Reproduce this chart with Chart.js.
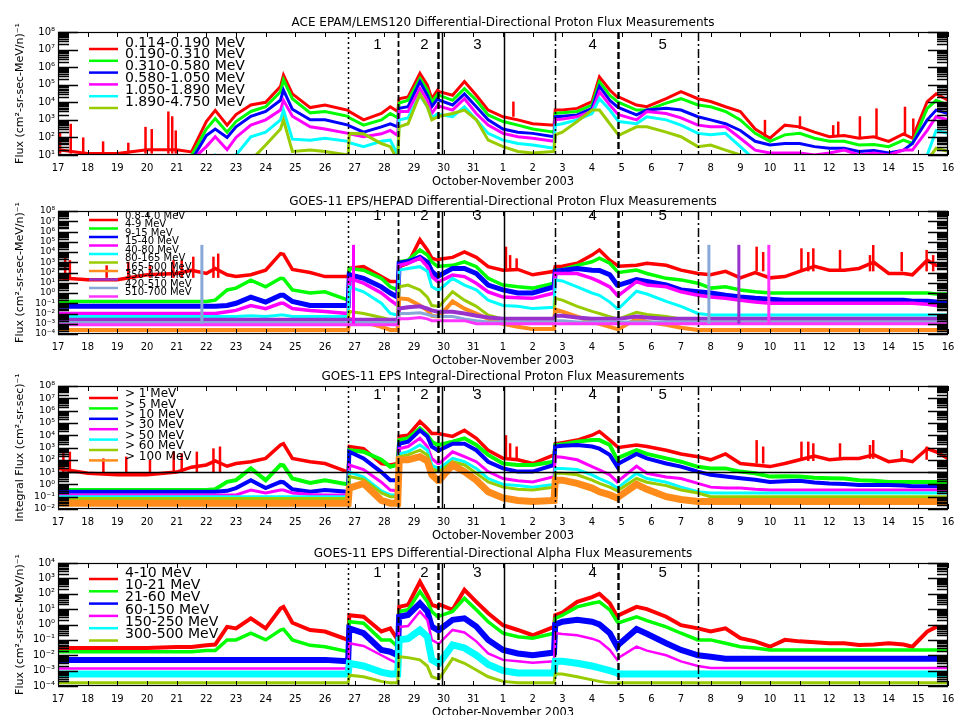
<!DOCTYPE html>
<html><head><meta charset="utf-8">
<script src="https://cdn.jsdelivr.net/npm/chart.js@4.4.0/dist/chart.umd.min.js"></script>
<style>
html,body{margin:0;padding:0;background:#fff;width:954px;height:715px;overflow:hidden;position:relative}
canvas{position:absolute;left:0}
</style></head><body>
<canvas id="c1" width="954" height="179" style="top:10px"></canvas>
<canvas id="c2" width="954" height="179" style="top:189px"></canvas>
<canvas id="c3" width="954" height="179" style="top:364px"></canvas>
<canvas id="c4" width="954" height="179" style="top:541px"></canvas>
<script>
// ---- time axis: days since 2003-10-17 00:00 UT ----
const days = [0,1,2,3,4,4.5,5,5.3,5.7,6,
 6.5,7,7.5,7.6,7.9,8.5,9,9.78,9.82,10.3,
 10.9,11.2,11.45,11.5,11.8,12.2,12.45,12.6,12.8,12.85,
 13.3,13.7,14.1,14.5,15,15.5,16,16.72,16.76,17,
 17.5,18,18.25,18.6,18.85,18.9,19.5,19.85,20.5,21,
 21.57,22,22.5,23,23.5,24,24.5,25,25.5,26,
 26.5,27,27.5,28,28.5,28.8,29.3,29.6,30];
const xTickDays = [0,1,2,3,4,5,6,7,8,9,10,11,12,13,14,15,16,17,18,19,20,21,22,23,24,25,26,27,28,29,30];
const dayLabels = ['17','18','19','20','21','22','23','24','25','26','27','28','29','30','31','1','2','3','4','5','6','7','8','9','10','11','12','13','14','15','16'];

// event markers
const eventDays = [9.79, 11.47, 12.82, 12.93, 15.02, 16.74, 18.87, 21.57];
const eventNumbers = ['1','2','3','4','5'];
const eventNumberDays = [10.77, 12.35, 14.14, 18.02, 20.38];

// ---- Panel 1: ACE EPAM/LEMS120 ----
const epamLabels = ['0.114-0.190 MeV','0.190-0.310 MeV','0.310-0.580 MeV','0.580-1.050 MeV','1.050-1.890 MeV','1.890-4.750 MeV'];
const yTicksEpam = [1e1,1e2,1e3,1e4,1e5,1e6,1e7,1e8];
const epam1 = [2e1,1.2e1,1.2e1,2e1,2e1,1.5e1,8e2,3.5e3,5e2,2e3,
 7e3,1e4,8e4,3.5e5,3e4,5e3,7e3,3.5e3,3e3,1e3,
 2.3e3,5.6e3,3e3,1.6e4,2e4,4.5e5,9.5e4,1.6e4,5e4,4e4,
 2.5e4,1.5e5,2.5e4,3.6e3,1.5e3,1e3,6e2,5e2,3.6e3,3.6e3,
 4.5e3,1.1e4,2.8e5,5e4,2e4,2e4,7e3,5.6e3,1.6e4,4e4,
 1.6e4,1.1e4,5.6e3,3e3,3e2,9e1,5e2,4e2,2e2,1.1e2,
 1.3e2,9e1,1.1e2,6e1,1.6e2,9e1,1.1e4,3e4,1.3e4];
const epam2 = [9,9,9,9,9,9,3e2,1.2e3,2e2,8e2,
 3e3,5.6e3,4e4,1.9e5,1.6e4,2.5e3,3e3,1.6e3,1.3e3,5e2,
 1e3,2.3e3,1.3e3,9e3,1.3e4,2.3e5,5e4,1e4,3e4,2.5e4,
 1.3e4,6e4,1.3e4,1.9e3,8e2,5e2,3e2,2e2,2.3e3,2.5e3,
 3e3,7e3,1.5e5,2.5e4,1.1e4,1e4,3.6e3,3.6e3,9e3,1.6e4,
 7e3,5.6e3,3e3,1e3,1.7e2,6e1,1.4e2,1.7e2,9e1,6e1,
 6e1,3.7e1,4e1,3e1,7e1,4.5e1,4.5e3,1.3e4,7e3];
const epam3 = [5,5,5,5,5,5,1.3e2,3e2,1e2,4e2,
 1.6e3,3e3,1.3e4,5e4,4e3,1e3,1e3,5e2,4.5e2,2e2,
 4e2,6e2,4e2,4.5e3,5.6e3,1.5e5,2.5e4,5.6e3,1.6e4,1.3e4,
 7e3,3e4,5.6e3,1e3,3e2,2e2,1.7e2,1.1e2,1.5e3,1.6e3,
 1.9e3,4.5e3,8e4,1.3e4,5.6e3,5e3,1.9e3,3.6e3,4.5e3,3.6e3,
 1.5e3,1e3,6e2,2.5e2,6e1,3.7e1,4.5e1,4.5e1,3e1,2.4e1,
 2.4e1,1.6e1,1.8e1,1.3e1,1.9e1,4.5e1,1e3,3.6e3,2.3e3];
const epam4 = [5,5,5,5,5,5,3e1,1.1e2,2e1,1e2,
 5e2,1e3,3.6e3,1.3e4,1.6e3,4e2,3e2,1.7e2,1.6e2,1.1e2,
 1.6e2,2.5e2,1.3e2,3e3,3e3,6e4,1.3e4,2.3e3,7e3,6e3,
 3.6e3,1.6e4,2.3e3,5e2,1.7e2,1.1e2,9e1,6e1,1e3,1.1e3,
 1.5e3,3e3,4e4,7e3,2.3e3,2e3,1e3,3e3,2.3e3,1.3e3,
 5e2,4e2,4e2,9e1,1.9e1,1.3e1,1.3e1,1.3e1,1e1,1.3e1,
 1.9e1,1e1,1.3e1,1e1,1.9e1,1.9e1,2.5e2,1.5e3,1e3];
const epam5 = [5,5,5,5,5,5,5,1e1,5,1e1,
 1.1e2,2e2,1e3,3.6e3,8e1,7e1,9e1,6e1,5e1,3e1,
 6e1,7e1,1e1,1e3,1.3e3,2.5e4,5.6e3,1.3e3,2.3e3,2e3,
 1.5e3,5.6e3,1e3,1.7e2,7e1,4.5e1,3.7e1,2.4e1,5e2,6e2,
 1e3,2.3e3,1.6e4,3.6e3,1e3,8e2,6e2,1.5e3,1e3,5e2,
 1.7e2,1.4e2,1.7e2,3e1,5,5,5,5,5,5,
 5,5,5,5,5,5,1e1,2.5e2,1.7e2];
const epam6 = [5,5,5,5,5,5,5,5,5,5,
 5,3.7e1,3e2,1e3,1.6e1,1.9e1,1.6e1,1e1,1.7e2,1.6e2,
 4.5e1,3e1,5,4e2,6e2,3e4,5.6e3,1e3,1.5e3,1.6e3,
 2.3e3,3.6e3,1e3,7e1,3e1,1.6e1,1.3e1,1.6e1,1.4e2,2e2,
 8e2,3.6e3,3.6e3,6e2,1.7e2,1.3e2,4e2,4e2,2e2,1.1e2,
 3e1,3.7e1,1.9e1,1e1,5,5,5,5,5,5,
 5,5,5,5,5,5,5,2.4e1,1.6e1];
// short spikes on the lowest-energy channel
const epamSpikeDays = [0.07,0.43,0.85,1.52,2.37,2.95,3.16,3.72,3.85,3.97,15.35,23.83,25.01,26.13,26.3,27.03,27.59,28.55,28.83];
const epamSpikeLow = [1.2e1,1.2e1,1.2e1,1.2e1,1.2e1,1.2e1,1.2e1,1.2e1,1.2e1,1.2e1,1.5e3,1e2,3e2,1.1e2,1.1e2,9e1,1e2,1.3e2,1e2];
const epamSpikeHigh = [2e2,6e2,1e2,6e1,5e1,4e2,3e2,3e3,1.6e3,2.5e2,1.1e4,1e3,1.6e3,5e2,8e2,1.6e3,4.5e3,5.6e3,1.2e3];

// ---- Panel 2: GOES-11 EPS/HEPAD differential ----
const epsLabels = ['0.8-4.0 MeV','4-9 MeV','9-15 MeV','15-40 MeV','40-80 MeV','80-165 MeV','165-500 MeV','350-420 MeV','420-510 MeV','510-700 MeV'];
const yTicksEps = [1e-4,1e-3,1e-2,1e-1,1e0,1e1,1e2,1e3,1e4,1e5,1e6,1e7,1e8];
const eps1 = [3e1,2e1,2e1,6e1,8e1,1.6e2,8e1,2.5e2,6e1,4e1,
 6e1,1.7e2,7e3,6e3,2e2,1e2,4e1,4e1,2.5e2,3.7e2,
 4e1,1.3e1,1.3e1,3.7e2,8e2,1.6e5,1.6e4,2.5e3,1.6e3,2e3,
 3e3,1e4,3e3,3.7e2,1.7e2,2e2,6e1,1.3e2,3.7e2,4e2,
 8e2,5e3,1.6e4,1.6e3,5e2,4e2,5e2,8e2,5e2,1.7e2,
 8e1,6e1,1.3e2,3e1,1e2,3e1,4e1,1.3e2,4e2,1.7e2,
 1.7e2,2.5e2,1e3,8e1,8e1,6e1,1.6e3,5e2,5e2];
const eps2 = [1.5e-1,1.5e-1,1.5e-1,1.5e-1,1.5e-1,1.5e-1,1.5e-1,2e-1,2e0,3e0,
 1.8e1,4e0,2.7e1,2.5e1,2e0,1e0,1.3e0,2e-1,2.5e2,1.7e2,
 2.7e1,4e0,2e0,1.1e3,1.6e3,1.6e4,5e3,1.1e3,3.7e2,4e2,
 5e2,1.1e3,3.7e2,2.7e1,6e0,4e0,3e0,9e0,1.7e2,2e2,
 5e2,1.1e3,2.5e3,8e2,1.3e2,1e2,1.7e2,8e1,2.7e1,1.9e1,
 9e0,3e0,4e0,2e0,1.3e0,1e0,1e0,1e0,1e0,1e0,
 1e0,1e0,1e0,1e0,1e0,1e0,1e0,8e-1,8e-1];
const eps3 = [5e-2,5e-2,5e-2,5e-2,5e-2,5e-2,5e-2,5e-2,6e-2,1e-1,
 4e-1,1.3e-1,6e-1,6e-1,1.5e-1,6e-2,6e-2,6e-2,6e1,2.7e1,
 4e0,1e0,4e-1,8e2,1.1e3,3e3,1e3,1.3e2,4e1,5e1,
 2.5e2,2.5e2,8e1,6e0,2e0,1e0,1e0,4e0,1.3e2,1.6e2,
 2.5e2,1.7e2,1.6e2,6e1,6e0,6e0,2e1,1.3e1,6e0,2e0,
 1.3e0,1e0,6e-1,4e-1,3e-1,2.5e-1,2e-1,2e-1,2e-1,2e-1,
 2e-1,2e-1,2e-1,2e-1,2e-1,1.6e-1,1.6e-1,1.3e-1,1e-1];
const eps4 = [1e-2,1e-2,1e-2,1e-2,1e-2,1e-2,1e-2,1e-2,1.5e-2,2e-2,
 6e-2,3e-2,1e-1,1e-1,3e-2,2e-2,1.6e-2,1e-2,2.7e1,9e0,
 1e0,2e-1,6e-2,5e2,8e2,2.5e3,3.7e2,4e1,1.3e1,1.3e1,
 5.6e1,4e1,9e0,1.3e0,4e-1,3.5e-1,3e-1,1e0,8e1,8e1,
 8e1,2.7e1,1.3e1,4e0,6e-1,6e-1,1.3e1,6e0,4e0,1.3e0,
 6e-1,4e-1,3e-1,2e-1,1.3e-1,1e-1,1e-1,1e-1,1e-1,1e-1,
 1e-1,1e-1,1e-1,1e-1,1e-1,1e-1,8e-2,6e-2,5e-2];
const eps5 = [5e-3,5e-3,5e-3,5e-3,5e-3,5e-3,5e-3,5e-3,5e-3,5e-3,
 6e-3,5e-3,7e-3,7e-3,5e-3,5e-3,5e-3,5e-3,4e0,1.3e0,
 1e-1,1e-2,7e-3,1.7e2,2.5e2,3.7e2,1.3e2,4e0,2e0,2e0,
 2.7e1,6e0,2e0,2e-1,6e-2,5e-2,3e-2,4e-2,1.9e1,1.5e1,
 4e0,1e0,6e-1,1.3e-1,3e-2,3e-2,1.5e0,8e-1,1.5e-1,5e-2,
 1e-2,7e-3,7e-3,7e-3,7e-3,7e-3,7e-3,7e-3,7e-3,7e-3,
 7e-3,7e-3,7e-3,7e-3,7e-3,7e-3,7e-3,7e-3,7e-3];
const eps6 = [2.5e-3,2.5e-3,2.5e-3,2.5e-3,2.5e-3,2.5e-3,2.5e-3,2.5e-3,2.5e-3,2.5e-3,
 2.5e-3,2.5e-3,2.5e-3,2.5e-3,2.5e-3,2.5e-3,2.5e-3,2.5e-3,1.6e-2,1e-2,
 4e-3,2.5e-3,2.5e-3,4e0,6e0,2e0,4e-1,6e-2,5e-2,5e-2,
 1.3e0,2e-1,5e-2,7e-3,3e-3,3e-3,3e-3,3e-3,3e-1,2e-1,
 5e-2,1.6e-2,1e-2,5e-3,3e-3,3e-3,1.3e-2,8e-3,5e-3,3e-3,
 3e-3,3e-3,3e-3,3e-3,3e-3,3e-3,3e-3,3e-3,3e-3,3e-3,
 3e-3,3e-3,3e-3,3e-3,3e-3,3e-3,3e-3,3e-3,3e-3];
const eps7 = [2.5e-4,2.5e-4,2.5e-4,2.5e-4,2.5e-4,2.5e-4,2.5e-4,2.5e-4,2.5e-4,2.5e-4,
 2.5e-4,2.5e-4,2.5e-4,2.5e-4,2.5e-4,2.5e-4,2.5e-4,2.5e-4,3e-3,1.5e-3,
 5e-4,2.5e-4,2.5e-4,3e-1,2.5e-1,6e-2,2e-2,6e-3,5e-3,5e-3,
 1.5e-1,3e-2,1e-2,3e-3,1e-3,5e-4,3e-4,3e-4,2.5e-2,1.5e-2,
 5e-3,1.5e-3,1e-3,5e-4,3e-4,3e-4,3e-3,1.5e-3,8e-4,4e-4,
 2.5e-4,2.5e-4,2.5e-4,2.5e-4,2.5e-4,2.5e-4,2.5e-4,2.5e-4,2.5e-4,2.5e-4,
 2.5e-4,2.5e-4,2.5e-4,2.5e-4,2.5e-4,2.5e-4,2.5e-4,2.5e-4,2.5e-4];
const hepad1 = [2.5e-3,2.5e-3,2.5e-3,2.5e-3,2.5e-3,2.5e-3,2.5e-3,2.5e-3,2.5e-3,2.5e-3,
 2.5e-3,2.5e-3,2.5e-3,2.5e-3,2.5e-3,2.5e-3,2.5e-3,2.5e-3,2.5e-3,2.5e-3,
 2.5e-3,2.5e-3,2.5e-3,3e-2,4e-2,5e-2,3e-2,2e-2,1.5e-2,1.5e-2,
 1.5e-2,1e-2,6e-3,4e-3,3e-3,3e-3,3e-3,3e-3,6e-3,6e-3,
 4e-3,3e-3,3e-3,3e-3,3e-3,3e-3,5e-3,4e-3,3e-3,3e-3,
 3e-3,3e-3,3e-3,3e-3,3e-3,3e-3,3e-3,3e-3,3e-3,3e-3,
 3e-3,3e-3,3e-3,3e-3,3e-3,3e-3,3e-3,3e-3,3e-3];
const hepad2 = [1.3e-3,1.3e-3,1.3e-3,1.3e-3,1.3e-3,1.3e-3,1.3e-3,1.3e-3,1.3e-3,1.3e-3,
 1.3e-3,1.3e-3,1.3e-3,1.3e-3,1.3e-3,1.3e-3,1.3e-3,1.3e-3,1.3e-3,1.3e-3,
 1.3e-3,1.3e-3,1.3e-3,1e-2,1e-2,1.2e-2,8e-3,6e-3,5e-3,5e-3,
 5e-3,3e-3,2e-3,1.5e-3,1.5e-3,1.5e-3,1.5e-3,1.5e-3,2e-3,2e-3,
 1.5e-3,1.5e-3,1.5e-3,1.5e-3,1.5e-3,1.5e-3,1.5e-3,1.5e-3,1.5e-3,1.5e-3,
 1.5e-3,1.5e-3,1.5e-3,1.5e-3,1.5e-3,1.5e-3,1.5e-3,1.5e-3,1.5e-3,1.5e-3,
 1.5e-3,1.5e-3,1.5e-3,1.5e-3,1.5e-3,1.5e-3,1.5e-3,1.5e-3,1.5e-3];
const hepad3 = [8e-4,8e-4,8e-4,8e-4,8e-4,8e-4,8e-4,8e-4,8e-4,8e-4,
 8e-4,8e-4,8e-4,8e-4,8e-4,8e-4,8e-4,8e-4,8e-4,8e-4,
 8e-4,8e-4,8e-4,3e-3,3e-3,4e-3,3e-3,2e-3,2e-3,2e-3,
 2e-3,2e-3,1e-3,1e-3,1e-3,1e-3,1e-3,1e-3,1e-3,1e-3,
 1e-3,1e-3,1e-3,1e-3,1e-3,1e-3,1e-3,1e-3,1e-3,1e-3,
 1e-3,1e-3,1e-3,1e-3,1e-3,1e-3,1e-3,1e-3,1e-3,1e-3,
 1e-3,1e-3,1e-3,1e-3,1e-3,1e-3,1e-3,1e-3,1e-3];
// isolated HEPAD spikes
const hepadSpikeDays = [4.85, 9.96, 21.94, 22.95, 23.96];
const hepadSpikeLow = [1e-3, 1e-3, 1e-3, 1e-3, 1e-3];
const hepadSpikeHigh = [5e4, 5e4, 5e4, 5e4, 5e4];
// short spikes on the 0.8-4.0 MeV channel
const epsSpikeDays = [0.24,0.4,1.64,2.37,3.1,3.89,4.17,4.56,5.24,5.4,15.1,15.24,15.46,23.55,23.77,25.06,25.29,25.46,26.36,27.37,27.48,28.44,29.28,29.5];
const epsSpikeLow = [3e1,3e1,3e1,3e1,3e1,3e1,3e1,3e1,3e1,3e1,2e2,2e2,2e2,1.3e2,1.3e2,1.3e2,1.3e2,1.3e2,1.3e2,1.3e2,1.3e2,1.3e2,1.3e2,1.3e2];
const epsSpikeHigh = [1e4,1.6e3,5e2,1.1e3,5e2,1.6e3,1.6e3,3.5e3,3.5e3,7e3,3.3e4,5e3,2.4e3,3.3e4,1e4,2.3e4,1e4,2.3e4,1.6e4,5e3,4.8e4,1e4,1.6e4,5e3];

// ---- Panel 3: GOES-11 EPS integral ----
const integLabels = ['> 1 MeV','> 5 MeV','> 10 MeV','> 30 MeV','> 50 MeV','> 60 MeV','> 100 MeV'];
const yTicksInteg = [1e-2,1e-1,1e0,1e1,1e2,1e3,1e4,1e5,1e6,1e7,1e8];
const integ1 = [2e1,8e0,6e0,6e0,1e1,2.5e1,3.8e1,8e1,3e1,5e1,
 7e1,1.3e2,1.6e3,2e3,1.3e2,7e1,5e1,1e1,1.2e3,8e2,
 5e1,3.8e1,5e1,8e3,1e4,1.3e5,3.5e4,1.4e4,1.4e4,1.3e4,
 8e3,2.5e4,5.6e3,6e2,1.3e2,1e2,5e1,2.5e2,2e3,2.5e3,
 4e3,1e4,2e4,4e3,1.2e3,1e3,1.6e3,1.2e3,6e2,3e2,
 1.8e2,1e2,3e2,5e1,3.8e1,2.8e1,5e1,1e2,2e2,1e2,
 1.3e2,1.3e2,2.5e2,7e1,1e2,7e1,8e2,4.5e2,1.3e2];
const integ2 = [3.5e-1,3.5e-1,3.5e-1,3.5e-1,3.5e-1,3.5e-1,3.5e-1,4e-1,1.6e0,2.2e0,
 2e1,2.2e0,3.8e1,3.5e1,3e0,1.3e0,2.2e0,1e0,6e2,4.5e2,
 1e2,2.7e1,4e1,4e3,5.6e3,3.5e4,1e4,3e3,1.6e3,1.6e3,
 3e3,5.6e3,1.6e3,2.5e2,5e1,3.8e1,3.8e1,7e1,1.6e3,1.8e3,
 3e3,4e3,4e3,1.6e3,1e2,1.5e2,6e2,3e2,1.3e2,7e1,
 2.7e1,2e1,2e1,1.1e1,8e0,4.3e0,4.5e0,4.3e0,3.5e0,3.2e0,
 3e0,2.2e0,2e0,1.6e0,1.6e0,1.6e0,1.6e0,1.6e0,1.6e0];
const integ3 = [2.5e-1,2.5e-1,2.5e-1,2.5e-1,2.5e-1,2.5e-1,2.5e-1,2.5e-1,3e-1,5e-1,
 2.2e0,5e-1,1.6e0,1.5e0,4e-1,2.5e-1,3.5e-1,2.5e-1,4.5e2,1.3e2,
 1e1,2.2e0,2.2e0,2e3,3e3,2.5e4,8e3,1.2e3,6e2,6e2,
 2e3,2e3,6e2,7e1,2e1,1.1e1,1.1e1,3.8e1,1.2e3,1.4e3,
 1.6e3,1.2e3,8e2,2.5e2,2.8e1,5e1,3e2,1.3e2,5e1,2.8e1,
 1.1e1,6e0,4.3e0,3.2e0,2.4e0,1.6e0,1.8e0,2e0,1.4e0,1.2e0,
 1.1e0,9e-1,9e-1,9e-1,8e-1,7e-1,7e-1,7e-1,7e-1];
const integ4 = [1.4e-1,1.4e-1,1.4e-1,1.4e-1,1.4e-1,1.4e-1,1.4e-1,1.4e-1,1.4e-1,1.4e-1,
 3.5e-1,2e-1,3.5e-1,3.5e-1,2e-1,1.5e-1,1.4e-1,1.4e-1,3.8e1,1.6e1,
 1.5e0,3.5e-1,3e-1,8e2,1.2e3,5.6e3,1.2e3,1.3e2,5e1,5e1,
 4.5e2,1.8e2,7e1,1.1e1,3e0,2e0,1.6e0,4.3e0,1.8e2,1.6e2,
 1e2,2.8e1,1.5e1,6e0,1.6e0,2e0,3e1,8e0,4e0,3e0,
 1.2e0,6e-1,5e-1,5e-1,4e-1,3.5e-1,3.5e-1,3.5e-1,3.5e-1,3.5e-1,
 3.5e-1,3.5e-1,3.5e-1,3.5e-1,3.5e-1,3.5e-1,3.5e-1,3.5e-1,3.5e-1];
const integ5 = [1e-1,1e-1,1e-1,1e-1,1e-1,1e-1,1e-1,1e-1,1e-1,1e-1,
 1e-1,1e-1,1e-1,1e-1,1e-1,1e-1,1e-1,1e-1,1e1,4e0,
 3e-1,1.4e-1,1.4e-1,3e2,4.5e2,1.6e3,6e2,3.8e1,2e1,2e1,
 1.3e2,7e1,2e1,3e0,1e0,8e-1,6e-1,1e0,2e1,2e1,
 1.6e1,6e0,3e0,1.3e0,5e-1,6e-1,8e0,3e0,1.5e0,6e-1,
 2.5e-1,2e-1,2e-1,2e-1,2e-1,2e-1,2e-1,2e-1,2e-1,2e-1,
 2e-1,2e-1,2e-1,2e-1,2e-1,2e-1,2e-1,2e-1,2e-1];
const integ6 = [7e-2,7e-2,7e-2,7e-2,7e-2,7e-2,7e-2,7e-2,7e-2,7e-2,
 7e-2,7e-2,7e-2,7e-2,7e-2,7e-2,7e-2,7e-2,4.3e0,2.5e0,
 2e-1,1e-1,1e-1,1.8e2,2.5e2,6e2,2.5e2,2e1,1.1e1,1.1e1,
 7e1,3.8e1,8e0,1.6e0,6e-1,4e-1,3.5e-1,6e-1,8e0,8e0,
 6e0,2.2e0,1.2e0,6e-1,3e-1,3.5e-1,3e0,1.5e0,8e-1,3.5e-1,
 2e-1,1e-1,1e-1,1e-1,1e-1,1e-1,1e-1,1e-1,1e-1,1e-1,
 1e-1,1e-1,1e-1,1e-1,1e-1,1e-1,1e-1,1e-1,1e-1];
const integ7 = [3e-2,3e-2,3e-2,3e-2,3e-2,3e-2,3e-2,3e-2,3e-2,3e-2,
 3e-2,3e-2,3e-2,3e-2,3e-2,3e-2,3e-2,3e-2,5e-1,1.2e0,
 5e-2,3e-2,3e-2,1e2,1e2,1.8e2,8e1,6e0,2.2e0,2.2e0,
 3.8e1,1.1e1,2.2e0,2.5e-1,8e-2,5e-2,4e-2,5e-2,2.2e0,2.2e0,
 1.2e0,5e-1,2.5e-1,1.4e-1,8e-2,1e-1,1e0,4e-1,1e-1,6e-2,
 4e-2,4e-2,4e-2,4e-2,4e-2,4e-2,4e-2,4e-2,4e-2,4e-2,
 4e-2,4e-2,4e-2,4e-2,4e-2,4e-2,4e-2,4e-2,4e-2];
const integRefLevel = [10];
// short spikes on the >1 MeV channel
const integSpikeDays = [0.18,0.4,1.53,2.3,3.1,3.9,4.17,4.68,5.24,5.46,15.1,15.24,15.46,23.55,23.77,25.06,25.29,25.46,26.36,27.37,27.48,28.44,29.28];
const integSpikeLow = [1e1,1e1,1e1,1e1,1e1,1e1,1e1,1e1,1e1,1e1,1.3e2,1.3e2,1.3e2,5e1,5e1,8e1,8e1,8e1,1e2,1.2e2,1.2e2,8e1,1e2];
const integSpikeHigh = [8.5e2,4.6e2,1.3e2,1.8e2,1e2,4.6e2,3.4e2,4.6e2,8.5e2,1.2e3,1e4,2.2e3,1.2e3,4e3,1.2e3,3e3,3e3,2.2e3,2.2e3,1.6e3,4e3,6.3e2,1.2e3];

// ---- Panel 4: GOES-11 EPS alpha ----
const alphaLabels = ['4-10 MeV','10-21 MeV','21-60 MeV','60-150 MeV','150-250 MeV','300-500 MeV'];
const yTicksAlpha = [1e-4,1e-3,1e-2,1e-1,1e0,1e1,1e2,1e3,1e4];
const alpha1 = [3e-2,3e-2,3e-2,3e-2,3.5e-2,3.5e-2,4.5e-2,5e-2,7e-1,5.6e-1,
 2.5e0,5.6e-1,1.1e1,1.4e1,1.3e0,4.4e-1,3.5e-1,1e-1,4e0,3.2e0,
 3.5e-1,5.6e-1,1e-1,1.4e1,1.9e1,6e2,8e1,1.9e1,1.4e1,2e1,
 9e0,1.8e2,3e1,5.4e0,9e-1,4.4e-1,2e-1,7e-1,4e0,6e0,
 3e1,6e1,1e2,2.4e1,3.2e0,4e0,1.4e1,1e1,3.2e0,9e-1,
 5.6e-1,3.5e-1,5.6e-1,1.3e-1,8e-2,3.6e-2,1e-1,8e-2,7e-2,6e-2,
 6e-2,4.7e-2,5e-2,6e-2,5e-2,3.6e-2,3.5e-1,7e-1,5.6e-1];
const alpha2 = [1.7e-2,1.7e-2,1.7e-2,1.7e-2,1.7e-2,1.7e-2,2e-2,2e-2,1e-1,1e-1,
 2.7e-1,1e-1,4.4e-1,5e-1,1e-1,4.4e-2,3.6e-2,1.7e-2,1.5e0,1.2e0,
 1e-1,1e-1,3.6e-2,7e0,9e0,1.4e2,3e1,7e0,3.2e0,3.5e0,
 7e0,5e1,9e0,1.5e0,2.7e-1,1.6e-1,1.3e-1,2.7e-1,2.5e0,4e0,
 1.4e1,2.4e1,3e1,9e0,1.5e0,1.3e0,3.2e0,1.8e0,7e-1,2.7e-1,
 1e-1,1e-1,6e-2,3.6e-2,3e-2,2.2e-2,2.2e-2,2.2e-2,2.2e-2,2.2e-2,
 2.2e-2,2.2e-2,2.2e-2,2.2e-2,2.2e-2,2.2e-2,2.2e-2,2.2e-2,2.2e-2];
const alpha3 = [5e-3,5e-3,5e-3,5e-3,5e-3,5e-3,5e-3,5e-3,5e-3,5e-3,
 5e-3,5e-3,5e-3,5e-3,5e-3,5e-3,5e-3,4e-3,5.6e-1,2.7e-1,
 2.2e-2,1.7e-2,1e-2,3.2e0,4.2e0,2.4e1,7e0,7.4e-1,4.4e-1,4.4e-1,
 2e0,2.5e0,7.4e-1,1e-1,2.2e-2,1.3e-2,1e-2,1.5e-2,1e0,1.5e0,
 2e0,1.5e0,1e0,2.7e-1,3.6e-2,5e-2,5e-1,2.5e-1,6e-2,2.2e-2,
 1e-2,8e-3,6e-3,6e-3,6e-3,6e-3,6e-3,6e-3,6e-3,6e-3,
 6e-3,6e-3,6e-3,6e-3,6e-3,6e-3,6e-3,6e-3,6e-3];
const alpha4 = [1.4e-3,1.4e-3,1.4e-3,1.4e-3,1.4e-3,1.4e-3,1.4e-3,1.4e-3,1.4e-3,1.4e-3,
 1.4e-3,1.4e-3,1.4e-3,1.4e-3,1.4e-3,1.4e-3,1.4e-3,1.4e-3,6e-2,4e-2,
 1e-2,5e-3,3e-3,7e-1,8e-1,7e0,2e0,1e-1,6e-2,6e-2,
 4.4e-1,3e-1,8e-2,1.3e-2,5e-3,4e-3,3.2e-3,4e-3,2.7e-1,2.4e-1,
 2e-1,1.2e-1,8e-2,2.2e-2,5e-3,7e-3,3.6e-2,2e-2,1e-2,4e-3,
 2e-3,1.5e-3,1.5e-3,1.5e-3,1.5e-3,1.5e-3,1.5e-3,1.5e-3,1.5e-3,1.5e-3,
 1.5e-3,1.5e-3,1.5e-3,1.5e-3,1.5e-3,1.5e-3,1.5e-3,1.5e-3,1.5e-3];
const alpha5 = [6e-4,6e-4,6e-4,6e-4,6e-4,6e-4,6e-4,6e-4,6e-4,6e-4,
 6e-4,6e-4,6e-4,6e-4,6e-4,6e-4,6e-4,6e-4,3e-3,2e-3,
 8e-4,6e-4,6e-4,1e-1,1.2e-1,4.4e-1,1.6e-1,5e-3,3e-3,3e-3,
 4.7e-2,3e-2,1e-2,2.5e-3,1e-3,7e-4,7e-4,7e-4,4e-3,4e-3,
 3e-3,2e-3,1.5e-3,1e-3,7e-4,6e-4,6e-4,6e-4,6e-4,6e-4,
 6e-4,6e-4,6e-4,6e-4,6e-4,6e-4,6e-4,6e-4,6e-4,6e-4,
 6e-4,6e-4,6e-4,6e-4,6e-4,6e-4,6e-4,6e-4,6e-4];
const alpha6 = [1.6e-4,1.6e-4,1.6e-4,1.6e-4,1.6e-4,1.6e-4,1.6e-4,1.6e-4,1.6e-4,1.6e-4,
 1.6e-4,1.6e-4,1.6e-4,1.6e-4,1.6e-4,1.6e-4,1.6e-4,1.6e-4,5e-4,4e-4,
 2e-4,1.6e-4,1.6e-4,8e-3,7e-3,5e-3,2e-3,4e-4,3e-4,3e-4,
 6e-3,3e-3,1.1e-3,4e-4,2e-4,1.6e-4,1.6e-4,1.6e-4,6e-4,6e-4,
 4e-4,2.5e-4,2e-4,1.6e-4,1.6e-4,1.6e-4,1.6e-4,1.6e-4,1.6e-4,1.6e-4,
 1.6e-4,1.6e-4,1.6e-4,1.6e-4,1.6e-4,1.6e-4,1.6e-4,1.6e-4,1.6e-4,1.6e-4,
 1.6e-4,1.6e-4,1.6e-4,1.6e-4,1.6e-4,1.6e-4,1.6e-4,1.6e-4,1.6e-4];

// ---- styles ----
const RED='#ff0000', GRN='#00ff00', BLU='#0000ff', MAG='#ff00ff', CYN='#00ffff', YGR='#99cc00', ORG='#ff8c1a', PUR='#9932cc', STL='#88a8d8', VIO='#ff33ff';
const eventDashes = [[2,3],[6,3],[7,3],[],[],[9,3,2,3],[7,3],[9,3,2,3]];
const eventWidths = [1.5,1.8,2.4,1.5,1.5,1.5,2.4,1.5];
const FONT = 'DejaVu Sans';
Chart.defaults.font.family = FONT;

const SUP = {'-':'\u207B','0':'\u2070','1':'\u00B9','2':'\u00B2','3':'\u00B3','4':'\u2074','5':'\u2075','6':'\u2076','7':'\u2077','8':'\u2078','9':'\u2079'};
function powLabel(v){ const e = Math.round(Math.log10(v)); return '10' + String(e).split('').map(c => SUP[c]).join(''); }

const panels = [
 {id:'c1', title:'ACE EPAM/LEMS120 Differential-Directional Proton Flux Measurements',
  ytitle:'Flux (cm\u00B2-sr-sec-MeV/n)\u207B\u00B9', min:1e1, max:1e8, ticks:yTicksEpam, tickFont:10,
  labels:epamLabels, series:[epam1,epam2,epam3,epam4,epam5,epam6],
  colors:[RED,GRN,BLU,MAG,CYN,YGR], widths:[3,3,3,3,3,3],
  legend:{y0:17, dy:11.8, font:14, textOff:-6}, numY:13,
  spikes:[{days:epamSpikeDays, low:epamSpikeLow, high:epamSpikeHigh, colors:RED, width:2.5, order:5}]},
 {id:'c2', title:'GOES-11 EPS/HEPAD Differential-Directional Proton Flux Measurements',
  ytitle:'Flux (cm\u00B2-sr-sec-MeV/n)\u207B\u00B9', min:1e-4, max:1e8, ticks:yTicksEps, tickFont:9,
  labels:epsLabels, series:[eps1,eps2,eps3,eps4,eps5,eps6,eps7,hepad1,hepad2,hepad3],
  colors:[RED,GRN,BLU,MAG,CYN,YGR,ORG,PUR,STL,VIO], widths:[3.5,3.5,5,3.5,3,3,4,4,3,3],
  legend:{y0:9, dy:8.5, font:10, textOff:-4}, numY:5,
  spikes:[{days:epsSpikeDays, low:epsSpikeLow, high:epsSpikeHigh, colors:RED, width:2.5, order:5},
          {days:hepadSpikeDays, low:hepadSpikeLow, high:hepadSpikeHigh, colors:[STL,MAG,STL,PUR,VIO], width:3, order:-50}]},
 {id:'c3', title:'GOES-11 EPS Integral-Directional Proton Flux Measurements',
  ytitle:'Integral Flux (cm\u00B2-sr-sec)\u207B\u00B9', min:1e-2, max:1e8, ticks:yTicksInteg, tickFont:9.5,
  labels:integLabels, series:[integ1,integ2,integ3,integ4,integ5,integ6,integ7],
  colors:[RED,GRN,BLU,MAG,CYN,YGR,ORG], widths:[3.5,4,4,3,3,3,7],
  legend:{y0:12, dy:10.4, font:12, textOff:-4}, numY:9, refLine:integRefLevel[0],
  spikes:[{days:integSpikeDays, low:integSpikeLow, high:integSpikeHigh, colors:RED, width:2.5, order:5}]},
 {id:'c4', title:'GOES-11 EPS Differential-Directional Alpha Flux Measurements',
  ytitle:'Flux (cm\u00B2-sr-sec-MeV/n)\u207B\u00B9', min:1e-4, max:1e4, ticks:yTicksAlpha, tickFont:10,
  labels:alphaLabels, series:[alpha1,alpha2,alpha3,alpha4,alpha5,alpha6],
  colors:[RED,GRN,BLU,MAG,CYN,YGR], widths:[4,3.5,6,2.5,7,3],
  legend:{y0:16, dy:12.3, font:14, textOff:-6}, numY:10}
];

function makePlugin(p) {
  return {
    id: 'panelDeco',
    afterDatasetsDraw(chart) {
      const {ctx, chartArea: a} = chart;
      const xs = chart.scales.x, ys = chart.scales.y;
      ctx.save();
      ctx.strokeStyle = '#000'; ctx.fillStyle = '#000';
      if (p.refLine) {
        const py = Math.round(ys.getPixelForValue(p.refLine)) + 0.5;
        ctx.lineWidth = 1.5; ctx.beginPath(); ctx.moveTo(a.left, py); ctx.lineTo(a.right, py); ctx.stroke();
      }
      eventDays.forEach((d, i) => {
        const px = Math.round(xs.getPixelForValue(d)) + 0.5;
        ctx.lineWidth = eventWidths[i]; ctx.setLineDash(eventDashes[i]);
        ctx.beginPath(); ctx.moveTo(px, a.top); ctx.lineTo(px, a.bottom); ctx.stroke();
      });
      ctx.setLineDash([]);
      ctx.font = '15px "Liberation Sans"'; ctx.textAlign = 'center'; ctx.textBaseline = 'middle';
      eventNumbers.forEach((n, i) => ctx.fillText(n, xs.getPixelForValue(eventNumberDays[i]), a.top + p.numY));
      // legend
      const L = p.legend;
      ctx.font = L.font + 'px "' + FONT + '"'; ctx.textAlign = 'left';
      p.labels.forEach((lab, i) => {
        const ly = a.top + L.y0 + L.dy * i;
        ctx.strokeStyle = p.colors[i]; ctx.lineWidth = 2.5;
        ctx.beginPath(); ctx.moveTo(89, ly); ctx.lineTo(118, ly); ctx.stroke();
        ctx.fillStyle = '#000'; ctx.fillText(lab, 125, ly + L.textOff);
      });
      // frame and ticks
      ctx.strokeStyle = '#000'; ctx.lineWidth = 1.2;
      ctx.strokeRect(a.left + 0.5, a.top + 0.5, a.right - a.left - 1, a.bottom - a.top - 1);
      ctx.lineWidth = 1;
      ctx.beginPath();
      xTickDays.forEach(d => {
        const px = Math.round(xs.getPixelForValue(d)) + 0.5;
        ctx.moveTo(px, a.top); ctx.lineTo(px, a.top + 5);
        ctx.moveTo(px, a.bottom); ctx.lineTo(px, a.bottom - 5);
      });
      ctx.stroke();
      ctx.lineWidth = 1.3;
      ctx.beginPath();
      for (let t = 0; t < p.ticks.length; t++) {
        const dec = p.ticks[t];
        for (let k = 1; k < 10; k++) {
          if (t === p.ticks.length - 1 && k > 1) break;
          const py = Math.round(ys.getPixelForValue(dec * k)) + 0.5;
          const len = k === 1 ? 20 : 11;
          ctx.moveTo(a.left, py); ctx.lineTo(a.left + len, py);
          ctx.moveTo(a.right, py); ctx.lineTo(a.right - len, py);
        }
      }
      ctx.stroke();
      // title
      ctx.font = '12px "' + FONT + '"'; ctx.textAlign = 'center'; ctx.textBaseline = 'middle'; ctx.fillStyle = '#000';
      ctx.fillText(p.title, (a.left + a.right) / 2, a.top - 9);
      ctx.restore();
    }
  };
}

function makeChart(p) {
  const datasets = p.series.map((s, i) => ({
    label: p.labels[i],
    data: s.map((v, k) => ({x: days[k], y: v})),
    borderColor: p.colors[i], backgroundColor: p.colors[i], borderWidth: p.widths[i],
    pointRadius: 0, tension: 0, fill: false, order: -i
  }));
  (p.spikes || []).forEach(sp => {
    sp.days.forEach((d, j) => {
      const col = Array.isArray(sp.colors) ? sp.colors[j] : sp.colors;
      datasets.push({label: 'spike', data: [{x: d, y: sp.low[j]}, {x: d, y: sp.high[j]}],
        borderColor: col, borderWidth: sp.width, pointRadius: 0, fill: false, order: sp.order});
    });
  });
  new Chart(document.getElementById(p.id), {
    type: 'line',
    data: {datasets},
    options: {
      responsive: false, animation: false, devicePixelRatio: 1,
      layout: {padding: {top: 22, right: 6, left: 0, bottom: 0}},
      plugins: {legend: {display: false}, tooltip: {enabled: false}, title: {display: false}},
      scales: {
        x: {type: 'linear', min: 0, max: 30,
            grid: {display: false, drawTicks: false}, border: {display: false},
            afterBuildTicks: (s) => { s.ticks = xTickDays.map(v => ({value: v})); },
            ticks: {autoSkip: false, maxRotation: 0, padding: 7, color: '#000', font: {family: FONT, size: 10},
                    callback: (v) => dayLabels[Math.round(v)]},
            title: {display: true, text: 'October-November 2003', color: '#000', font: {family: FONT, size: 11.5}, padding: {top: 0, bottom: 0}},
            afterFit: (s) => { s.height = 34; s.paddingLeft = 0; s.paddingRight = 0; }},
        y: {type: 'logarithmic', min: p.min, max: p.max,
            grid: {display: false, drawTicks: false}, border: {display: false},
            afterBuildTicks: (s) => { s.ticks = p.ticks.map(v => ({value: v})); },
            ticks: {autoSkip: false, padding: 3, color: '#000', font: {family: FONT, size: p.tickFont},
                    callback: (v) => powLabel(v)},
            title: {display: true, text: p.ytitle, color: '#000', font: {family: FONT, size: 11}, padding: {top: 14, bottom: 0}},
            afterFit: (s) => { s.width = 58; s.paddingTop = 0; s.paddingBottom = 0; }}
      }
    },
    plugins: [makePlugin(p)]
  });
}
panels.forEach(makeChart);
</script>
</body></html>
